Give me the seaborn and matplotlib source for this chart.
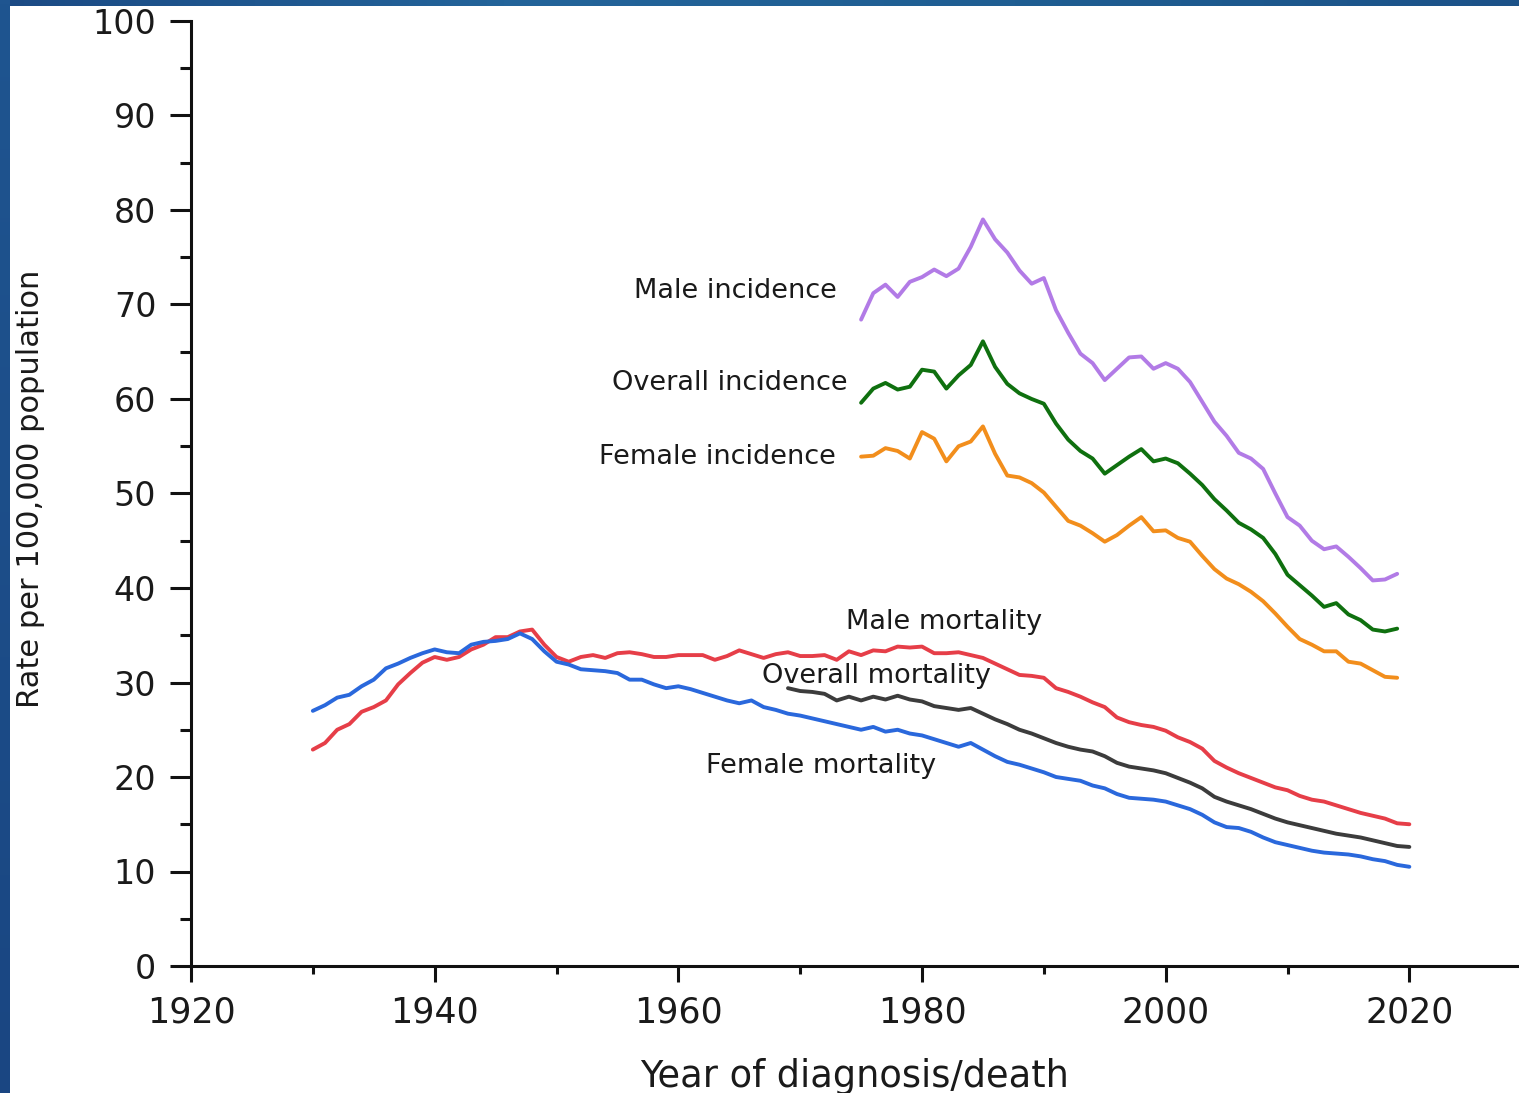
import numpy as np
import pandas as pd
import matplotlib
matplotlib.use("Agg")
import matplotlib.pyplot as plt
from matplotlib.ticker import MultipleLocator
from matplotlib.colors import LinearSegmentedColormap
import seaborn as sns

# ---- data: age-adjusted rates per 100,000 ----
inc_start = 1975
male_incidence = [68.4, 71.2, 72.1, 70.8, 72.4,
                  72.9, 73.7, 73.0, 73.8, 76.1,
                  79.0, 76.9, 75.5, 73.6, 72.2,
                  72.8, 69.4, 67.0, 64.8, 63.8,
                  62.0, 63.2, 64.4, 64.5, 63.2,
                  63.8, 63.2, 61.8, 59.7, 57.6,
                  56.1, 54.3, 53.7, 52.6, 50.0,
                  47.5, 46.6, 45.0, 44.1, 44.4,
                  43.3, 42.1, 40.8, 40.9, 41.5]
overall_incidence = [59.6, 61.1, 61.7, 61.0, 61.3,
                     63.1, 62.9, 61.1, 62.5, 63.6,
                     66.1, 63.4, 61.6, 60.6, 60.0,
                     59.5, 57.4, 55.7, 54.5, 53.7,
                     52.1, 53.0, 53.9, 54.7, 53.4,
                     53.7, 53.2, 52.1, 50.9, 49.4,
                     48.2, 46.9, 46.2, 45.3, 43.6,
                     41.4, 40.3, 39.2, 38.0, 38.4,
                     37.2, 36.6, 35.6, 35.4, 35.7]
female_incidence = [53.9, 54.0, 54.8, 54.5, 53.7,
                    56.5, 55.8, 53.4, 55.0, 55.5,
                    57.1, 54.2, 51.9, 51.7, 51.1,
                    50.1, 48.6, 47.1, 46.6, 45.8,
                    44.9, 45.6, 46.6, 47.5, 46.0,
                    46.1, 45.3, 44.9, 43.4, 42.0,
                    41.0, 40.4, 39.6, 38.6, 37.3,
                    35.9, 34.6, 34.0, 33.3, 33.3,
                    32.2, 32.0, 31.3, 30.6, 30.5]

mort_start = 1930
male_mortality = [22.9, 23.6, 25.0, 25.6, 26.9, 27.4, 28.1, 29.8, 31.0, 32.1,
                  32.7, 32.4, 32.7, 33.5, 34.0, 34.8, 34.8, 35.4, 35.6, 34.0,
                  32.7, 32.2, 32.7, 32.9, 32.6, 33.1, 33.2, 33.0, 32.7, 32.7,
                  32.9, 32.9, 32.9, 32.4, 32.8, 33.4, 33.0, 32.6, 33.0, 33.2,
                  32.8, 32.8, 32.9, 32.4, 33.3, 32.9, 33.4, 33.3, 33.8, 33.7,
                  33.8, 33.1, 33.1, 33.2, 32.9, 32.6, 32.0, 31.4, 30.8, 30.7,
                  30.5, 29.4, 29.0, 28.5, 27.9, 27.4, 26.3, 25.8, 25.5, 25.3,
                  24.9, 24.2, 23.7, 23.0, 21.7, 21.0, 20.4, 19.9, 19.4, 18.9,
                  18.6, 18.0, 17.6, 17.4, 17.0, 16.6, 16.2, 15.9, 15.6, 15.1,
                  15.0]
female_mortality = [27.0, 27.6, 28.4, 28.7, 29.6, 30.3, 31.5, 32.0, 32.6, 33.1,
                    33.5, 33.2, 33.1, 34.0, 34.3, 34.4, 34.6, 35.2, 34.6, 33.3,
                    32.2, 31.9, 31.4, 31.3, 31.2, 31.0, 30.3, 30.3, 29.8, 29.4,
                    29.6, 29.3, 28.9, 28.5, 28.1, 27.8, 28.1, 27.4, 27.1, 26.7,
                    26.5, 26.2, 25.9, 25.6, 25.3, 25.0, 25.3, 24.8, 25.0, 24.6,
                    24.4, 24.0, 23.6, 23.2, 23.6, 22.9, 22.2, 21.6, 21.3, 20.9,
                    20.5, 20.0, 19.8, 19.6, 19.1, 18.8, 18.2, 17.8, 17.7, 17.6,
                    17.4, 17.0, 16.6, 16.0, 15.2, 14.7, 14.6, 14.2, 13.6, 13.1,
                    12.8, 12.5, 12.2, 12.0, 11.9, 11.8, 11.6, 11.3, 11.1, 10.7,
                    10.5]

overall_mort_start = 1969
overall_mortality = [29.4,
                     29.1, 29.0, 28.8, 28.1, 28.5, 28.1, 28.5, 28.2, 28.6, 28.2,
                     28.0, 27.5, 27.3, 27.1, 27.3, 26.7, 26.1, 25.6, 25.0, 24.6,
                     24.1, 23.6, 23.2, 22.9, 22.7, 22.2, 21.5, 21.1, 20.9, 20.7,
                     20.4, 19.9, 19.4, 18.8, 17.9, 17.4, 17.0, 16.6, 16.1, 15.6,
                     15.2, 14.9, 14.6, 14.3, 14.0, 13.8, 13.6, 13.3, 13.0, 12.7,
                     12.6]

series = [
    ("Male incidence", inc_start, male_incidence, "#b27be6"),
    ("Overall incidence", inc_start, overall_incidence, "#0f700f"),
    ("Female incidence", inc_start, female_incidence, "#f28e1c"),
    ("Male mortality", mort_start, male_mortality, "#e63e48"),
    ("Overall mortality", overall_mort_start, overall_mortality, "#3c3c3c"),
    ("Female mortality", mort_start, female_mortality, "#2a68dc"),
]

# label placement: (x, y, horizontal alignment)
label_pos = {
    "Male incidence": (1973.0, 70.7, "right"),
    "Overall incidence": (1973.9, 61.0, "right"),
    "Female incidence": (1972.9, 53.1, "right"),
    "Male mortality": (1973.8, 35.7, "left"),
    "Overall mortality": (1966.9, 29.9, "left"),
    "Female mortality": (1962.3, 20.4, "left"),
}

frames = []
for name, start, vals, _ in series:
    frames.append(pd.DataFrame({"year": np.arange(start, start + len(vals)),
                                "rate": vals, "series": name}))
df = pd.concat(frames, ignore_index=True)

sns.set_style("ticks")
plt.rcParams["font.family"] = ["DejaVu Sans"]

W, H = 1519, 1093
fig = plt.figure(figsize=(W / 100, H / 100), dpi=100)
fig.patch.set_facecolor("white")

ax = fig.add_axes([191 / W, 127 / H, 1 - 191 / W, (1072 - 127) / H])
for name, start, vals, color in series:
    sub = df[df["series"] == name]
    sns.lineplot(data=sub, x="year", y="rate", color=color, linewidth=2.8,
                 ax=ax, legend=False, estimator=None)

for name, start, vals, color in series:
    x, y, ha = label_pos[name]
    ax.text(x, y, name, ha=ha, va="baseline", fontsize=19.5, color="#1a1a1a")

ax.set_xlim(1920, 2029)
ax.set_ylim(0, 100)
ax.set_xticks(range(1920, 2021, 20))
ax.set_yticks(range(0, 101, 10))
ax.xaxis.set_minor_locator(MultipleLocator(10))
ax.yaxis.set_minor_locator(MultipleLocator(5))

sns.despine(ax=ax)
for side in ("left", "bottom"):
    ax.spines[side].set_linewidth(2.2)
    ax.spines[side].set_color("#111111")

ax.tick_params(axis="x", which="major", length=11.5, width=2.2, pad=10,
               labelsize=25, color="#111111", labelcolor="#1a1a1a")
ax.tick_params(axis="x", which="minor", length=6, width=2.2, color="#111111")
ax.tick_params(axis="y", which="major", length=15, width=2.2, pad=10,
               labelsize=24, color="#111111", labelcolor="#1a1a1a")
ax.tick_params(axis="y", which="minor", length=8, width=2.2, color="#111111")

ax.set_xlabel("Year of diagnosis/death", fontsize=26.5, color="#1a1a1a")
ax.set_ylabel("Rate per 100,000 population", fontsize=22, color="#1a1a1a")
ax.xaxis.set_label_coords(0.5, -0.097)
ax.xaxis.label.set_va("top")
ax.yaxis.set_label_coords(-0.110, 0.505)
ax.set_facecolor("white")

# blue frame strips along the top and left edges
top = fig.add_axes([0, 1 - 6 / H, 1, 6 / H])
grad = np.linspace(0, 1, 256)[None, :]
cmap_top = LinearSegmentedColormap.from_list(
    "top", ["#1b4a84", "#23649a", "#1f5e92", "#1c5288"])
top.imshow(grad, aspect="auto", cmap=cmap_top)
top.set_axis_off()
left = fig.add_axes([0, 0, 10 / W, 1])
cmap_left = LinearSegmentedColormap.from_list("left", ["#1f5590", "#1a4682"])
left.imshow(np.linspace(0, 1, 256)[:, None], aspect="auto", cmap=cmap_left)
left.set_axis_off()

fig.savefig("out.png", dpi=100, facecolor="white")
